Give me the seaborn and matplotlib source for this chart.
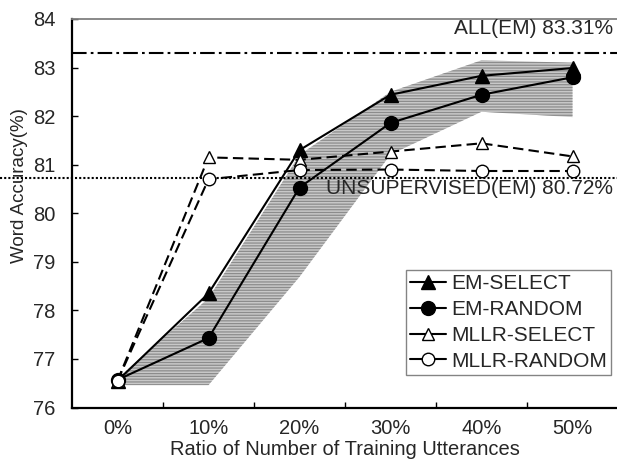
import matplotlib
matplotlib.use("Agg")
import matplotlib.pyplot as plt
import numpy as np
import pandas as pd
import seaborn as sns

# Ratio of labelled training utterances and word accuracy (%) per method
ratios = ["0%", "10%", "20%", "30%", "40%", "50%"]
em_select = [76.55, 78.35, 81.30, 82.44, 82.83, 82.99]
em_random = [76.57, 77.43, 80.53, 81.86, 82.44, 82.80]
mllr_select = [76.55, 81.15, 81.10, 81.27, 81.44, 81.17]
mllr_random = [76.55, 80.70, 80.89, 80.90, 80.87, 80.87]

# Spread of the EM-RANDOM runs
band_upper = [76.60, 78.25, 81.20, 82.50, 83.15, 83.10]
band_lower = [76.46, 76.46, 78.69, 81.21, 82.09, 81.98]

# Reference levels
all_em = 83.31
unsup_em = 80.72

sns.set_theme(style="white")
plt.rcParams["font.family"] = ["Liberation Sans", "DejaVu Sans"]
plt.rcParams["hatch.linewidth"] = 0.9

fig = plt.figure(figsize=(6.17, 4.59), dpi=100)
ax = fig.add_axes([72 / 617, 51.5 / 459, 546 / 617, 388.5 / 459])

pos = np.arange(len(ratios))
df = pd.DataFrame({
    "pos": np.tile(pos, 4),
    "acc": em_select + em_random + mllr_select + mllr_random,
    "method": np.repeat(["EM-SELECT", "EM-RANDOM", "MLLR-SELECT", "MLLR-RANDOM"], len(ratios)),
})

# shaded spread around the random-selection EM curve
ax.fill_between(pos, band_lower, band_upper, facecolor="#c8c8c8",
                edgecolor="#8c8c8c", hatch="------", linewidth=0, zorder=1)

styles = {
    "EM-SELECT": dict(marker="^", ms=10, mfc="black", dashes=None),
    "EM-RANDOM": dict(marker="o", ms=10, mfc="black", dashes=None),
    "MLLR-SELECT": dict(marker="^", ms=9, mfc="white", dashes=(5, 2.5)),
    "MLLR-RANDOM": dict(marker="o", ms=9, mfc="white", dashes=(5, 2.5)),
}
for name, st in styles.items():
    sub = df[df["method"] == name]
    kw = dict(marker=st["marker"], markersize=st["ms"], markerfacecolor=st["mfc"],
              markeredgecolor="black", markeredgewidth=1.0, linewidth=1.5,
              color="black", label=name, zorder=3)
    line_ax = sns.lineplot(data=sub, x="pos", y="acc", ax=ax, **kw)
    if st["dashes"] is not None:
        line_ax.lines[-1].set_dashes(st["dashes"])

# reference lines
ax.axhline(all_em, color="black", lw=1.5, dashes=(7, 2, 1.3, 2), zorder=2)
ax.axhline(unsup_em, xmin=-72 / 546, xmax=1, color="black", lw=1.5,
           ls=(0, (1, 1)), clip_on=False, zorder=2)
ax.text(5.445, 83.69, f"ALL(EM) {all_em:.2f}%", ha="right", va="baseline",
        fontsize=15, zorder=4)
ax.text(5.445, 80.40, f"UNSUPERVISED(EM) {unsup_em:.2f}%", ha="right",
        va="baseline", fontsize=15, zorder=4)

ax.set_xlim(-0.5, 5.5)
ax.set_ylim(76, 84)
ax.set_xticks(pos)
ax.set_xticklabels(ratios)
ax.set_xticks(pos[:-1] + 0.5, minor=True)
ax.set_yticks(np.arange(76, 85, 1))
ax.tick_params(axis="x", which="major", length=0, pad=8, labelsize=14.5)
ax.tick_params(axis="x", which="minor", direction="in", length=4, width=1,
               color="black", bottom=True)
ax.tick_params(axis="y", which="major", direction="in", length=4, width=1,
               color="black", left=True, pad=12, labelsize=14.5)

ax.set_xlabel("Ratio of Number of Training Utterances", fontsize=14.5)
ax.set_ylabel("Word Accuracy(%)", fontsize=13.5)
ax.xaxis.set_label_coords(0.5, -0.083)
ax.yaxis.set_label_coords(-0.081, 0.572)

for side in ["left", "bottom"]:
    ax.spines[side].set_color("black")
    ax.spines[side].set_linewidth(1.6)
ax.spines["top"].set_color("#808080")
ax.spines["top"].set_linewidth(1.3)
ax.spines["right"].set_visible(False)

leg = ax.legend(loc="lower right", bbox_to_anchor=(0.987, 0.084), fontsize=15,
                frameon=True, fancybox=False, edgecolor="#666666",
                handlelength=1.7, handletextpad=0.25, labelspacing=0.33,
                borderpad=0.2, borderaxespad=0)
leg.get_frame().set_linewidth(1.0)
for h in leg.get_lines():
    h.set_linestyle("-")

fig.savefig("out.png", dpi=100)
